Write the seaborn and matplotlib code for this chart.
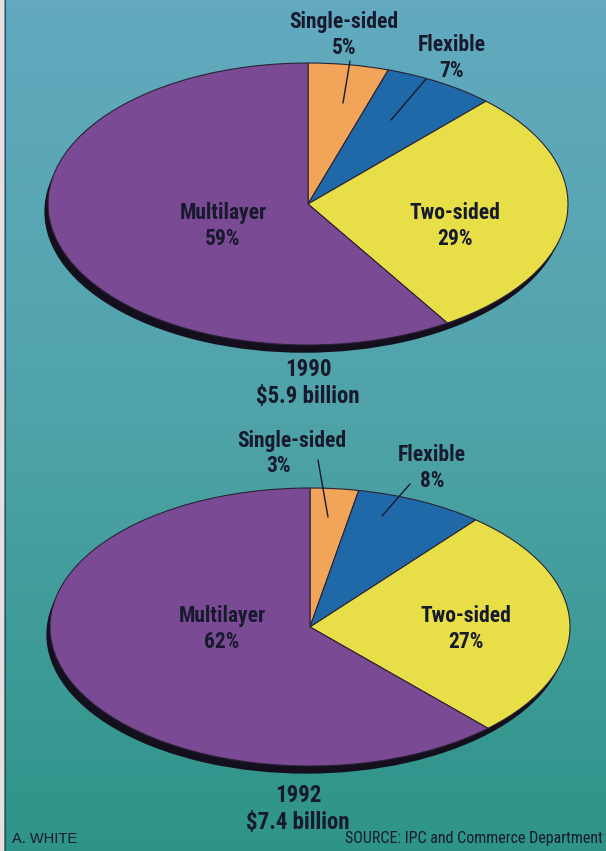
import numpy as np
import matplotlib
matplotlib.use("Agg")
import matplotlib.pyplot as plt
from matplotlib import font_manager
from matplotlib.colors import LinearSegmentedColormap
import seaborn as sns

sns.set_style("white")

# Prefer a condensed sans-serif for the labels
_installed = {f.name for f in font_manager.fontManager.ttflist}
_wanted = ["Roboto Condensed", "Archivo Narrow", "PT Sans Narrow", "Fira Sans Condensed",
           "IBM Plex Sans Condensed", "Barlow Condensed", "Liberation Sans Narrow"]
_narrow = [n for n in _wanted if n in _installed]
plt.rcParams["font.family"] = _narrow[:1] + ["DejaVu Sans"]

# Board market share by type
categories = ["Single-sided", "Flexible", "Two-sided", "Multilayer"]
share_1990 = [5, 7, 29, 59]
share_1992 = [3, 8, 27, 62]
years = ["1990", "1992"]
totals = ["$5.9 billion", "$7.4 billion"]

slice_colors = sns.color_palette(["#f2a458", "#1f69a8", "#e8df48", "#7b4a94"])
ink = "#161a2c"
W, H = 606, 851

fig = plt.figure(figsize=(W / 100, H / 100), dpi=100)

# Background wash, blue-teal at the top fading to green-teal
bg = fig.add_axes([0, 0, 1, 1])
bg.set_xlim(0, W)
bg.set_ylim(H, 0)
bg.axis("off")
wash = LinearSegmentedColormap.from_list("wash", ["#63aac0", "#4fa3a8", "#2e9488"])
bg.imshow(np.linspace(0, 1, 256)[:, None], cmap=wash, aspect="auto",
          extent=[0, W, H, 0], zorder=0)
bg.fill_between([0, 4], 0, H, color="#eadfdc", zorder=1, lw=0)
bg.plot([5, 5], [0, H], color="#3a4a70", lw=0.8, zorder=1)


def draw_pie(cx, cy, rx, ry, values):
    pad = 1.12
    ax = fig.add_axes([(cx - pad * rx) / W, 1 - (cy + pad * ry) / H,
                       2 * pad * rx / W, 2 * pad * ry / H])
    ax.patch.set_alpha(0)
    # dark rim giving the disc some thickness
    ax.pie([1], radius=1, center=(-0.014, -0.055), colors=["#140f1c"],
           wedgeprops=dict(linewidth=0))
    ax.pie(values, radius=1, startangle=90, counterclock=False,
           colors=slice_colors,
           wedgeprops=dict(edgecolor="#2a2236", linewidth=0.8))
    ax.set_xlim(-pad, pad)
    ax.set_ylim(-pad, pad)
    ax.set_aspect("auto")
    ax.axis("off")
    return ax


draw_pie(308, 204, 260, 141, share_1990)
draw_pie(310, 627, 260, 139, share_1992)

# Labels on a transparent overlay in pixel coordinates
ov = fig.add_axes([0, 0, 1, 1])
ov.set_xlim(0, W)
ov.set_ylim(H, 0)
ov.axis("off")
ov.patch.set_alpha(0)

lab = dict(color=ink, fontsize=15.5, fontweight="bold", ha="center", va="center",
           linespacing=1.2)

# 1990
ov.text(344, 35, f"{categories[0]}\n{share_1990[0]}%", **lab)
ov.text(452, 58, f"{categories[1]}\n{share_1990[1]}%", **lab)
ov.text(223, 226, f"{categories[3]}\n{share_1990[3]}%", **lab)
ov.text(455, 226, f"{categories[2]}\n{share_1990[2]}%", **lab)
ov.plot([350, 343], [61, 103], color=ink, lw=1)
ov.plot([426, 391], [79, 120], color=ink, lw=1)
ov.text(308, 383, f"{years[0]}\n{totals[0]}", **{**lab, "fontsize": 16.5})

# 1992
ov.text(292, 441, categories[0], **lab)
ov.text(279, 466, f"{share_1992[0]}%", **lab)
ov.text(432, 468, f"{categories[1]}\n{share_1992[1]}%", **lab)
ov.text(222, 629, f"{categories[3]}\n{share_1992[3]}%", **lab)
ov.text(466, 629, f"{categories[2]}\n{share_1992[2]}%", **lab)
ov.plot([318, 328], [460, 517], color=ink, lw=1)
ov.plot([410, 382], [484, 516], color=ink, lw=1)
ov.text(298, 809, f"{years[1]}\n{totals[1]}", **{**lab, "fontsize": 16.5})

ov.text(12, 839, "A. WHITE", color=ink, fontsize=10.5, ha="left", va="center",
        family=["Liberation Sans", "DejaVu Sans"])
ov.text(603, 839, "SOURCE: IPC and Commerce Department", color=ink,
        fontsize=11.5, ha="right", va="center")

fig.savefig("out.png", dpi=100)
